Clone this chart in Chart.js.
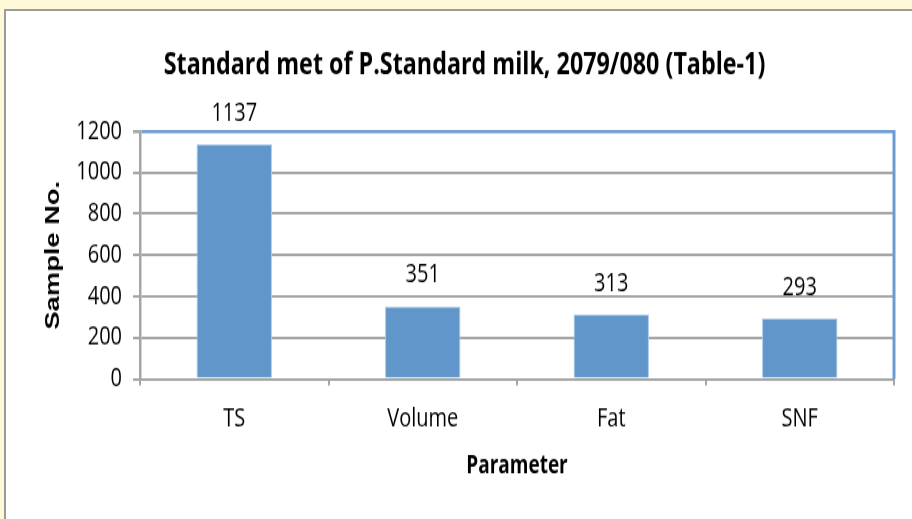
<!DOCTYPE html>
<html>
<head>
<meta charset="utf-8">
<title>Standard met of P.Standard milk, 2079/080</title>
<script src="https://cdn.jsdelivr.net/npm/chart.js"></script>
<style>
  body { margin: 0; background: #fff9d8; width: 912px; height: 519px; overflow: hidden; position: relative; }
  #panel { position: absolute; left: 4px; top: 9px; width: 920px; height: 520px; background: #fff; border: 2px solid #9b9b9b; }
  /* the original picture is stretched vertically, so the chart is drawn flatter and scaled up */
  #wrap { position: absolute; left: 0; top: 0; width: 912px; height: 400px; transform: scaleY(1.3); transform-origin: 0 0; }
</style>
</head>
<body>
<div id="panel"></div>
<div id="wrap"><canvas id="chart" width="912" height="400"></canvas></div>
<script>
const titleText = "Standard met of P.Standard milk, 2079/080 (Table-1)";
const categories = ["TS", "Volume", "Fat", "SNF"];
const samples = [1137, 351, 313, 293];
const yTicks = [0, 200, 400, 600, 800, 1000, 1200];

const gray = "#a5a5a5";
const blue = "#6a9bd1";

// value above each bar
const valueLabels = {
    id: "valueLabels",
    afterDatasetsDraw(chart) {
        const ctx = chart.ctx;
        const meta = chart.getDatasetMeta(0);
        ctx.save();
        ctx.font = '20px "Open Sans"';
        ctx.fillStyle = "#000";
        ctx.textAlign = "center";
        ctx.textBaseline = "middle";
        meta.data.forEach((bar, i) => {
            ctx.fillText(String(samples[i]), bar.x, bar.y - 24);
        });
        ctx.restore();
    }
};

// blue right edge of the plot area
const plotEdge = {
    id: "plotEdge",
    afterDraw(chart) {
        const a = chart.chartArea;
        const ctx = chart.ctx;
        ctx.save();
        ctx.strokeStyle = blue;
        ctx.lineWidth = 3;
        ctx.beginPath();
        ctx.moveTo(a.right, a.top - 1);
        ctx.lineTo(a.right, a.bottom);
        ctx.stroke();
        ctx.restore();
    }
};

function draw() {
    new Chart(document.getElementById("chart"), {
        type: "bar",
        data: {
            labels: categories,
            datasets: [{
                data: samples,
                backgroundColor: "#6096c9",
                borderColor: "#a9c8e8",
                borderWidth: 1,
                barPercentage: 0.4,
                categoryPercentage: 1
            }]
        },
        plugins: [valueLabels, plotEdge],
        options: {
            responsive: false,
            animation: false,
            layout: { padding: { left: 35, right: 18, top: 0, bottom: 0 } },
            plugins: {
                legend: { display: false },
                tooltip: { enabled: false },
                title: {
                    display: true,
                    text: titleText,
                    color: "#000",
                    font: { family: '"Open Sans"', size: 23.3, weight: "bold" },
                    padding: { top: 36, bottom: 37 }
                }
            },
            scales: {
                x: {
                    grid: { display: true, drawOnChartArea: false, drawTicks: true, tickLength: 5, color: gray, lineWidth: 2, offset: true },
                    border: { color: gray, width: 2 },
                    ticks: { color: "#000", font: { family: '"Open Sans"', size: 20 }, padding: 14 },
                    title: {
                        display: true,
                        text: "Parameter",
                        color: "#000",
                        font: { family: '"Open Sans"', size: 19, weight: "bold" },
                        padding: { top: 0, bottom: 30 }
                    },
                    afterFit(s) { s.height = 108.5; }
                },
                y: {
                    min: 0,
                    max: 1200,
                    afterBuildTicks(s) { s.ticks = yTicks.map(v => ({ value: v })); },
                    ticks: {
                        color: "#000",
                        font: { family: '"Open Sans"', size: 20 },
                        padding: 11,
                        callback: v => String(v)
                    },
                    grid: {
                        color: c => (c.tick && c.tick.value === 1200 ? blue : gray),
                        lineWidth: c => (c.tick && c.tick.value === 1200 ? 2.5 : 2),
                        tickColor: gray,
                        tickLength: 7
                    },
                    border: { color: gray, width: 2.5 },
                    title: {
                        display: true,
                        text: "Sample No.",
                        color: "#000",
                        font: { family: '"Liberation Sans"', size: 21, weight: "bold" },
                        padding: { top: 6, bottom: 0 }
                    },
                    afterFit(s) { s.width = 105; }
                }
            }
        }
    });
}

Promise.all([
    document.fonts.load('20px "Open Sans"'),
    document.fonts.load('bold 20px "Open Sans"'),
    document.fonts.load('bold 20px "Liberation Sans"')
]).then(draw, draw);
</script>
</body>
</html>
